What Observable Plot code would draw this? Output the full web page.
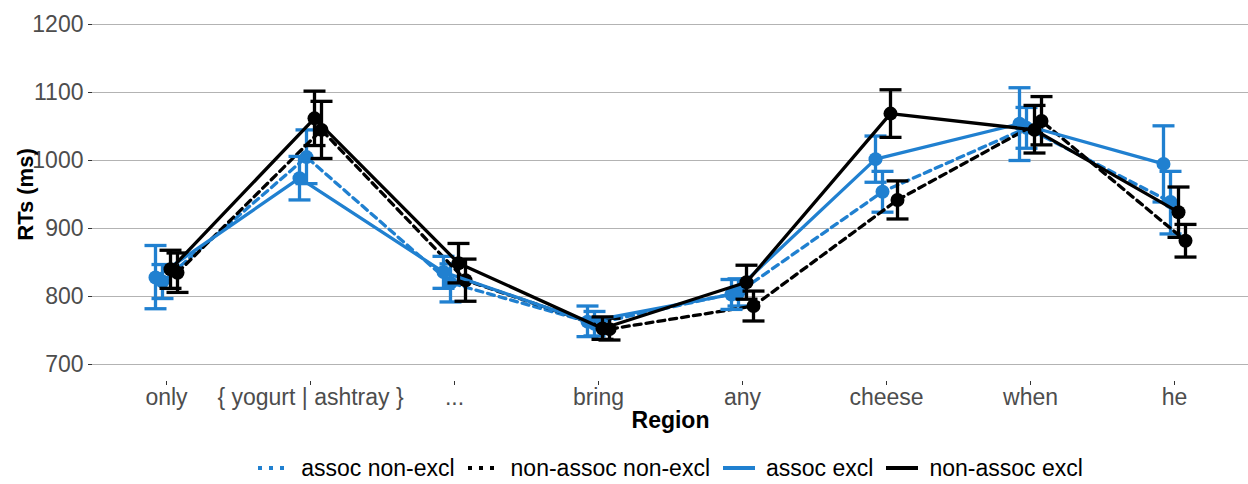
<!DOCTYPE html>
<html><head><meta charset="utf-8">
<script src="https://cdn.jsdelivr.net/npm/d3@7"></script>
<script src="https://cdn.jsdelivr.net/npm/@observablehq/plot@0.6"></script>
<style>
body{margin:0;background:#fff;font-family:"Liberation Sans",Arial,sans-serif;}
#legend{display:flex;justify-content:center;align-items:center;height:40px;padding-left:92px;width:1156px;font-size:23px;color:#000;}
.item{display:flex;align-items:center;margin:0 6px;}
.item svg{margin-right:10px;}
</style></head><body>
<div id="chart"></div>
<div id="legend"></div>
<script>
const regions = ["only","{ yogurt | ashtray }","...","bring","any","cheese","when","he"];
const seriesNames = ["assoc non-excl","non-assoc non-excl","assoc excl","non-assoc excl"];
const yTicks = [700, 800, 900, 1000, 1100, 1200];

// means and interval bounds per series, in region order
const assocNonExclMean = [822, 1005, 820, 760, 806, 954, 1048, 939];
const assocNonExclLo   = [797, 966, 792, 742, 786, 924, 1018, 892];
const assocNonExclHi   = [847, 1045, 848, 778, 826, 984, 1078, 984];

const nonAssocNonExclMean = [835, 1045, 824, 752, 786, 942, 1058, 882];
const nonAssocNonExclLo   = [806, 1003, 793, 736, 764, 914, 1023, 858];
const nonAssocNonExclHi   = [864, 1087, 855, 768, 808, 970, 1094, 906];

const assocExclMean = [828, 974, 836, 763, 803, 1002, 1054, 995];
const assocExclLo   = [782, 942, 812, 741, 781, 968, 1000, 939];
const assocExclHi   = [875, 1006, 859, 786, 825, 1036, 1107, 1051];

const nonAssocExclMean = [840, 1062, 849, 753, 821, 1069, 1045, 924];
const nonAssocExclLo   = [812, 1022, 820, 737, 796, 1034, 1011, 887];
const nonAssocExclHi   = [868, 1102, 878, 770, 846, 1104, 1081, 961];

const BLUE = "#2080d0";
const styles = {
  "assoc non-excl":     {color: BLUE,   dash: "7,5", dx: -4},
  "non-assoc non-excl": {color: "#000", dash: "7,5", dx: 11},
  "assoc excl":         {color: BLUE,   dash: null,  dx: -11},
  "non-assoc excl":     {color: "#000", dash: null,  dx: 4}
};
const seriesData = {
  "assoc non-excl": [assocNonExclMean, assocNonExclLo, assocNonExclHi],
  "non-assoc non-excl": [nonAssocNonExclMean, nonAssocNonExclLo, nonAssocNonExclHi],
  "assoc excl": [assocExclMean, assocExclLo, assocExclHi],
  "non-assoc excl": [nonAssocExclMean, nonAssocExclLo, nonAssocExclHi]
};

const capSymbol = {draw(ctx) { ctx.moveTo(-11, 0); ctx.lineTo(11, 0); }};

const marks = [
  Plot.gridY(yTicks, {stroke: "#b3b3b3", strokeOpacity: 1, strokeWidth: 1}),
  Plot.axisY(yTicks, {tickSize: 4, tickPadding: 5, fontSize: 23, stroke: "#333", fill: "#4d4d4d", label: null, line: true, tickFormat: d => String(d)}),
  Plot.axisX({tickSize: 4, tickPadding: 3, fontSize: 23, stroke: "#333", fill: "#4d4d4d", label: null, line: true}),
  Plot.text(["RTs (ms)"], {frameAnchor: "left", textAnchor: "middle", lineAnchor: "middle", dx: -67, rotate: -90, fontSize: 22, fontWeight: "bold", fill: "#000", text: d => d}),
  Plot.text(["Region"], {frameAnchor: "bottom", textAnchor: "middle", lineAnchor: "middle", dy: 39, fontSize: 23, fontWeight: "bold", fill: "#000", text: d => d})
];
for (const name of seriesNames) {
  const [m, lo, hi] = seriesData[name];
  const s = styles[name];
  const rows = regions.map((r, i) => ({region: r, mean: m[i], lo: lo[i], hi: hi[i]}));
  marks.push(
    Plot.line(rows, {x: "region", y: "mean", dx: s.dx, stroke: s.color, strokeWidth: 3.3, strokeDasharray: s.dash}),
    Plot.ruleX(rows, {x: "region", y1: "lo", y2: "hi", dx: s.dx, stroke: s.color, strokeWidth: 3.3}),
    Plot.dot(rows, {x: "region", y: "lo", dx: s.dx, symbol: capSymbol, stroke: s.color, strokeWidth: 3.3, fill: "none"}),
    Plot.dot(rows, {x: "region", y: "hi", dx: s.dx, symbol: capSymbol, stroke: s.color, strokeWidth: 3.3, fill: "none"}),
    Plot.dot(rows, {x: "region", y: "mean", dx: s.dx, r: 7, fill: s.color, stroke: "none"})
  );
}

const chart = Plot.plot({
  width: 1248, height: 448,
  marginLeft: 92, marginRight: 0, marginTop: 7, marginBottom: 67,
  style: {fontFamily: "'Liberation Sans', Arial, sans-serif", background: "#fff"},
  x: {type: "point", domain: regions, padding: 0.5},
  y: {domain: [675, 1225]},
  marks
});
document.getElementById("chart").appendChild(chart);

const legend = document.getElementById("legend");
for (const name of seriesNames) {
  const s = styles[name];
  const item = document.createElement("div");
  item.className = "item";
  item.innerHTML = `<svg width="34" height="10"><line x1="1" x2="33" y1="5" y2="5" stroke="${s.color}" stroke-width="4" ${s.dash ? 'stroke-dasharray="4,7"' : ""}/></svg><span>${name}</span>`;
  legend.appendChild(item);
}
</script>
</body></html>
